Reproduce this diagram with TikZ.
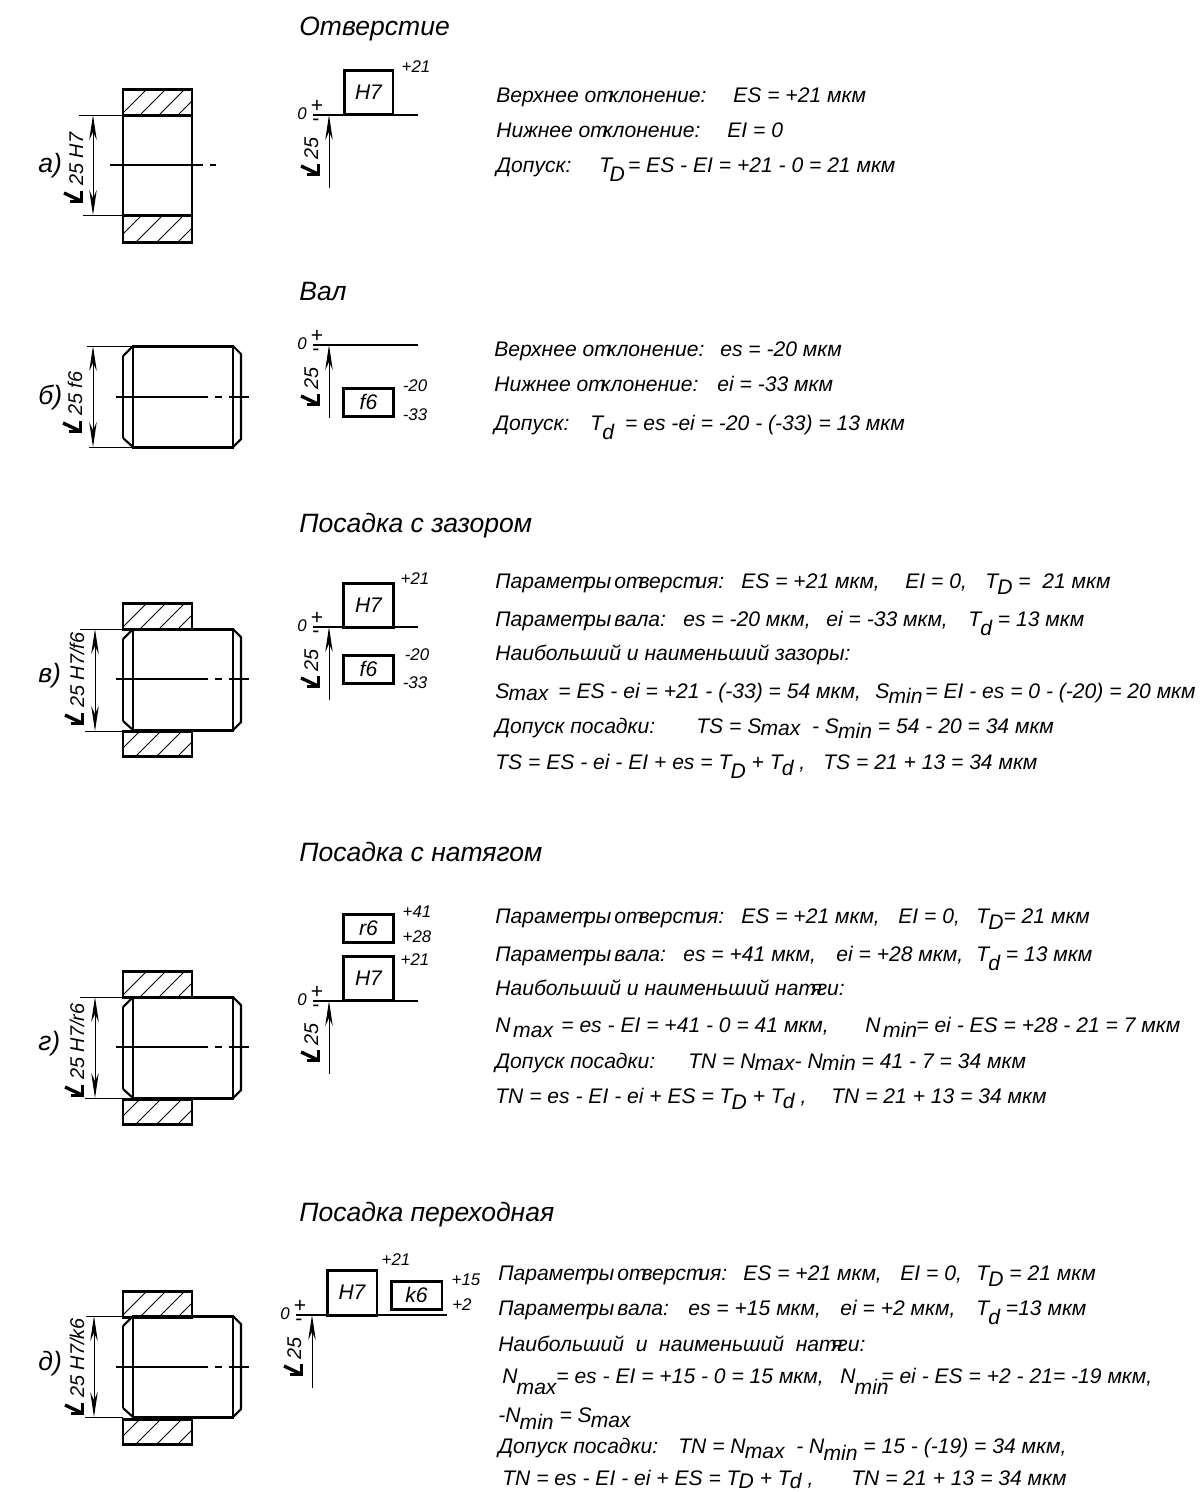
\documentclass[tikz,border=0pt]{standalone}
\usepackage{fontspec}
\setmainfont{Liberation Sans}
\usetikzlibrary{arrows.meta}

\newcommand{\lw}[2][.18cm]{\kern-.5pt\raisebox{-#1}{#2}}
\newcommand{\ok}{\kern-3pt}
\newcommand{\otv}{Парамет\ok ры\hspace{-1.5pt} от\ok верст\ok ия:}
\newcommand{\vala}{Парамет\ok ры\hspace{-1.5pt} вала:}

\tikzset{
  body/.style={anchor=base west, inner sep=0pt, font=\fontsize{12}{14}\selectfont\itshape},
  head/.style={anchor=base west, inner sep=0pt, font=\fontsize{15.1}{17}\selectfont\itshape},
  small/.style={anchor=center, inner sep=0pt, font=\fontsize{9.6}{11}\selectfont\itshape},
  tolbox/.style={draw, line width=1.7pt, inner sep=0pt, font=\fontsize{12}{14}\selectfont\itshape},
  dimtxt/.style={anchor=base west, inner sep=0pt, rotate=90, font=\fontsize{11.3}{13}\selectfont\itshape},
  contour/.style={line width=1.7pt, line join=miter},
  thinline/.style={line width=.55pt},
  axisline/.style={line width=.75pt},
  diamline/.style={line width=1.9pt},
  dimarrow/.style={line width=.55pt, {Stealth[length=.5cm,width=.15cm]}-{Stealth[length=.5cm,width=.15cm]}},
  axarrow/.style={line width=.55pt, -{Stealth[length=.5cm,width=.15cm]}}
}

% diameter mark, #1 and #2 its lower right corner
\newcommand{\diamark}[2]{
  \begin{scope}[shift={(#1,#2)}]
    \draw[diamline] (-13,-1.7) -- (-1.7,-1.7) -- (-1.7,-12);
    \draw[diamline] (-19,-10) -- (-3,-2.5);
  \end{scope}
}
% hatched band of the hole, #1 top, #2 bottom, #3 first x, #4 step
\newcommand{\hatchband}[4]{
  \begin{scope}
    \clip (123,#1) rectangle (192,#2);
    \foreach \n in {0,1,2,3}
      \draw[thinline] ({#3+\n*#4},#2) -- ++(40,-40);
  \end{scope}
}
% sleeve seen in section, #1 top of the part
\newcommand{\holebands}[1]{
  \hatchband{#1}{#1+26}{121}{19}
  \hatchband{#1+128}{#1+153}{115}{21}
  \draw[contour] (123,#1) rectangle (192,#1+26);
  \draw[contour] (123,#1+128) rectangle (192,#1+153);
}
% shaft, #1 top of the shaft
\newcommand{\shaft}[1]{
  \draw[contour] (133,#1) -- (233,#1) -- (233,#1+101) -- (133,#1+101) -- cycle;
  \draw[contour] (123,#1+10) -- (123,#1+92);
  \draw[line width=1.2pt] (123,#1+10) -- (133,#1) (123,#1+92) -- (133,#1+101);
  \draw[line width=1.2pt] (233,#1) -- (241,#1+8) -- (241,#1+93) -- (233,#1+101);
}
% centre line of the shaft
\newcommand{\shaftaxis}[1]{
  \draw[axisline] (116,#1) -- (208,#1) (215,#1) -- (222,#1) (229,#1) -- (249,#1);
}
% size line, #1 x, #2 top, #3 bottom, #4 left end top, #5 left end bottom, #6 x of end, #7 x of text, #8 y of mark, #9 text
\newcommand{\sizeline}[9]{
  \draw[thinline] (#4,#2) -- (#6,#2) (#5,#3) -- (#6,#3);
  \draw[dimarrow] (#1,#2) -- (#1,#3);
  \diamark{#7}{#8}
  \node[dimtxt] at (#7,#8-17) {#9};
}
% zero line with arrow, #1 name, #2 shift in x, #3 y of the line, #4 end of line
\newcommand{\zeroaxis}[4]{
  \coordinate (#1a) at (329+#2,#3+73);
  \coordinate (#1b) at (329+#2,#3);
  \draw[axisline] (313+#2,#3) -- (#4,#3);
  \draw[axarrow] (#1a) -- (#1b);
  \node[small] (#1n) at (302+#2,#3-1) {0};
  \node[small, font=\fontsize{12}{13}\selectfont] (#1p) at (317+#2,#3-9) {+};
  \node[small, font=\fontsize{12}{13}\selectfont] (#1m) at (316+#2,#3+7) {-};
  \diamark{320+#2}{#3+61}
  \node[dimtxt] (#1d) at (318+#2,#3+45) {25};
}

\begin{document}
\begin{tikzpicture}[x=.02cm,y=-.02cm]
\useasboundingbox (0,0) rectangle (1200,1492);

% --- hole
\node[head] (ta) at (299,35) {Отверстие};
\node[head] (la) at (38,172) {а)};
\hatchband{89}{115}{121}{19}
\hatchband{215}{242}{115}{21}
\draw[contour] (123,89) rectangle (192,242);
\draw[contour] (123,115) -- (192,115) (123,215) -- (192,215);
\draw[axisline] (110,165) -- (203,165) (210,165) -- (216,165);
\sizeline{93}{115}{215}{79}{83}{123}{83}{203}{25 H7}
\zeroaxis{a}{0}{115}{418}
\node[tolbox, minimum width=.98cm, minimum height=.88cm] (ha) at (368.5,92) {H7};
\node[small] (ha1) at (416,67) {+21};
\node[body] (a1) at (496,102) {Верхнее от\ok клонение:};
\node[body] (a2) at (733,102) {ES = +21 мкм};
\node[body] (a3) at (496,137) {Нижнее от\ok клонение:};
\node[body] (a4) at (727,137) {EI = 0};
\node[body] (a5) at (496,172) {Допуск:};
\node[body] (a6) at (599,172) {T\kern-1pt\lw{D}\kern-1.5pt{} = ES - EI = +21 - 0 = 21 мкм};

% --- shaft
\node[head] (tb) at (299,300) {Вал};
\node[head] (lb) at (38,404) {б)};
\shaft{346}
\shaftaxis{397}
\sizeline{93}{346}{447}{87}{89}{133}{82}{433}{25 f6}
\zeroaxis{b}{0}{345}{418}
\node[tolbox, minimum width=1cm, minimum height=.56cm] (fb) at (368.5,402) {f6};
\node[small] (fb1) at (415,386) {-20};
\node[small] (fb2) at (415,415) {-33};
\node[body] (b1) at (494,356) {Верхнее от\ok клонение:};
\node[body] (b2) at (720,356) {es = -20 мкм};
\node[body] (b3) at (494,391) {Нижнее от\ok клонение:};
\node[body] (b4) at (717,391) {ei = -33 мкм};
\node[body] (b5) at (494,430) {Допуск:};
\node[body] (b6) at (590,430) {T\lw{d}\kern3pt{} = es -ei = -20 - (-33) = 13 мкм};

% --- clearance fit
\node[head] (tc) at (299,532) {Посадка с зазором};
\node[head] (lc) at (38,682) {в)};
\holebands{603}
\shaft{629}
\shaftaxis{679}
\sizeline{95}{629}{731}{80}{85}{123}{84}{725}{25 H7/f6}
\zeroaxis{c}{0}{627}{418}
\node[tolbox, minimum width=1cm, minimum height=.88cm] (hc) at (368.5,605) {H7};
\node[tolbox, minimum width=1cm, minimum height=.56cm] (fc) at (368.5,669) {f6};
\node[small] (hc1) at (415,579) {+21};
\node[small] (fc1) at (417,655) {-20};
\node[small] (fc2) at (415,683) {-33};
\node[body] (c1) at (495,588) {\otv};
\node[body] (c2) at (741,588) {ES = +21 мкм,};
\node[body] (c3) at (905,588) {EI = 0,};
\node[body] (c4) at (985,588) {T\lw[.12cm]{D} =};
\node[body] (c5) at (1042,588) {21 мкм};
\node[body] (c6) at (495,626) {\vala};
\node[body] (c7) at (683,626) {es = -20 мкм,};
\node[body] (c8) at (826,626) {ei = -33 мкм,};
\node[body] (c9) at (968,626) {T\lw{d} = 13 мкм};
\node[body] (c10) at (495,660) {Наибольший и наименьший зазоры:};
\node[body] (c11) at (495,698) {S\lw[.04cm]{max}};
\node[body] (c12) at (558,698) {= ES - ei = +21 - (-33) = 54 мкм,};
\node[body] (c13) at (875,698) {S\lw[.1cm]{min}};
\node[body] (c14) at (925,698) {= EI - es = 0 - (-20) = 20 мкм};
\node[body] (c15) at (495,733) {Допуск посадки:};
\node[body] (c16) at (696,733) {TS = S\lw[.04cm]{max} \ - S\lw[.1cm]{min} = 54 - 20 = 34 мкм};
\node[body] (c17) at (495,769) {TS = ES - ei - EI + es = T\lw{D} + T\lw[.12cm]{d} ,};
\node[body] (c18) at (823,769) {TS = 21 + 13 = 34 мкм};

% --- interference fit
\node[head] (td) at (299,861) {Посадка с натягом};
\node[head] (ld) at (38,1050) {г)};
\holebands{971}
\shaft{997}
\shaftaxis{1047}
\sizeline{95}{997}{1098}{80}{85}{123}{84}{1097}{25 H7/r6}
\zeroaxis{d}{0}{1001}{418}
\node[tolbox, minimum width=1cm, minimum height=.56cm] (rd) at (368.5,928.5) {r6};
\node[tolbox, minimum width=1cm, minimum height=.88cm] (hd) at (368.5,978.5) {H7};
\node[small] (rd1) at (417,912) {+41};
\node[small] (rd2) at (417,937) {+28};
\node[small] (hd1) at (415,960) {+21};
\node[body] (d1) at (495,923) {\otv};
\node[body] (d2) at (741,923) {ES = +21 мкм,};
\node[body] (d3) at (898,923) {EI = 0,};
\node[body] (d4) at (976,923) {T\lw[.12cm]{D}= 21 мкм};
\node[body] (d5) at (495,961) {\vala};
\node[body] (d6) at (683,961) {es = +41 мкм,};
\node[body] (d7) at (836,961) {ei = +28 мкм,};
\node[body] (d8) at (976,961) {T\lw{d} = 13 мкм};
\node[body] (d9) at (495,995) {Наибольший и наименьший нат\ok я\ok ги:};
\node[body] (d10) at (495,1032) {N\lw[.1cm]{\,max}};
\node[body] (d11) at (561,1032) {= es - EI = +41 - 0 = 41 мкм,};
\node[body] (d12) at (865,1032) {N\lw[.1cm]{\,min}};
\node[body] (d13) at (916,1032) {= ei - ES = +28 - 21 = 7 мкм};
\node[body] (d14) at (495,1068) {Допуск посадки:};
\node[body] (d15) at (688,1068) {TN = N\lw[.05cm]{max}- N\lw[.05cm]{min} = 41 - 7 = 34 мкм};
\node[body] (d16) at (495,1103) {TN = es - EI - ei + ES = T\lw[.12cm]{D} + T\lw[.1cm]{d} ,};
\node[body] (d17) at (831,1103) {TN = 21 + 13 = 34 мкм};

% --- transition fit
\node[head] (te) at (299,1221) {Посадка переходная};
\node[head] (le) at (38,1370) {д)};
\holebands{1291}
\shaft{1316}
\shaftaxis{1367}
\sizeline{94}{1316}{1417}{86}{85}{123}{84}{1415}{25 H7/k6}
\zeroaxis{e}{-17}{1315}{447}
\node[tolbox, minimum width=1cm, minimum height=.9cm] (he) at (352,1292.5) {H7};
\node[tolbox, minimum width=1.02cm, minimum height=.56cm] (ke) at (416.5,1295) {k6};
\node[small] (he1) at (396,1260) {+21};
\node[small] (ke1) at (466,1280) {+15};
\node[small] (ke2) at (462,1305) {+2};
\node[body] (e1) at (498,1280) {\otv};
\node[body] (e2) at (743,1280) {ES = +21 мкм,};
\node[body] (e3) at (900,1280) {EI = 0,};
\node[body] (e4) at (976,1280) {T\lw[.12cm]{D} = 21 мкм};
\node[body] (e5) at (498,1315) {\vala};
\node[body] (e6) at (688,1315) {es = +15 мкм,};
\node[body] (e7) at (840,1315) {ei = +2 мкм,};
\node[body] (e8) at (976,1315) {T\lw{d} =13 мкм};
\node[body] (e9) at (498,1351) {Наибольший \ и \ наименьший \ нат\ok я\ok ги:};
\node[body] (e10) at (502,1383) {N\lw[.22cm]{max}};
\node[body] (e11) at (556,1383) {= es - EI = +15 - 0 = 15 мкм,};
\node[body] (e12) at (840,1383) {N\lw[.22cm]{min}};
\node[body] (e13) at (881,1383) {= ei - ES = +2 - 21= -19 мкм,};
\node[body] (e14) at (498,1422) {-N\lw[.14cm]{min} = S\lw[.1cm]{max}};
\node[body] (e15) at (498,1453) {Допуск посадки:};
\node[body] (e16) at (678,1453) {TN = N\lw[.1cm]{max} \ - N\lw[.14cm]{min} = 15 - (-19) = 34 мкм,};
\node[body] (e17) at (502,1485) {TN = es - EI - ei + ES = T\lw[.07cm]{D} + T\lw[.07cm]{d} ,};
\node[body] (e18) at (851,1485) {TN = 21 + 13 = 34 мкм};
\end{tikzpicture}
\end{document}
